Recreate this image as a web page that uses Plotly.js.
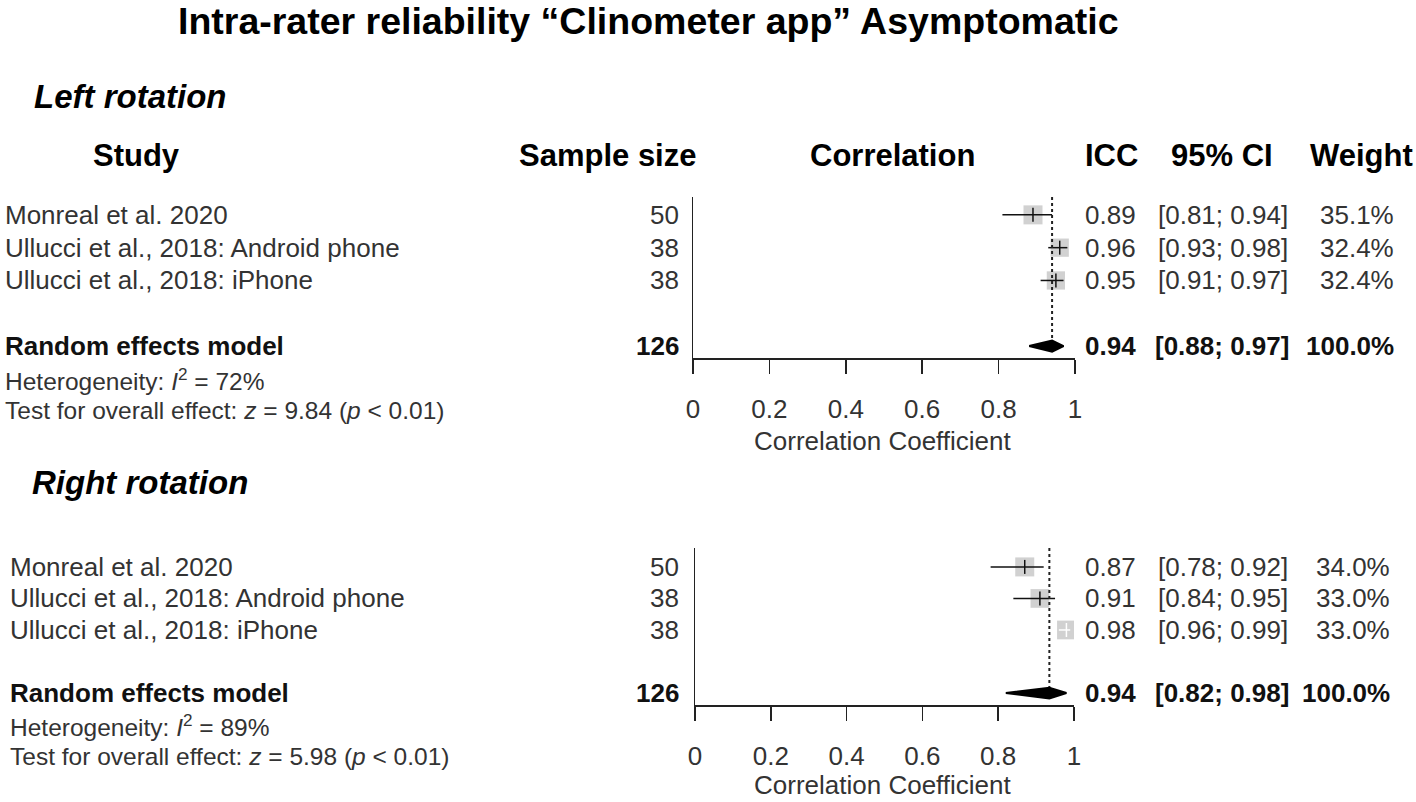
<!DOCTYPE html>
<html>
<head>
<meta charset="utf-8">
<script src="https://cdn.plot.ly/plotly-3.0.1.min.js"></script>
<style>
  body { margin: 0; background: white; }
  #forest { width: 1416px; height: 802px; }
</style>
</head>
<body>
<div id="forest"></div>
<script>
const W = 1416;
const H = 802;

// Studies (same for both panels)
const studies = ['Monreal et al. 2020', 'Ullucci et al., 2018: Android phone', 'Ullucci et al., 2018: iPhone'];

// Left rotation
const leftN = [50, 38, 38];
const leftICC = [0.89, 0.96, 0.95];
const leftLower = [0.81, 0.93, 0.91];
const leftUpper = [0.94, 0.98, 0.97];
const leftWeight = [35.1, 32.4, 32.4];
const leftPooled = [0.94, 0.88, 0.97];   // estimate, lower, upper
const leftI2 = 72;
const leftZ = 9.84;

// Right rotation
const rightN = [50, 38, 38];
const rightICC = [0.87, 0.91, 0.98];
const rightLower = [0.78, 0.84, 0.96];
const rightUpper = [0.92, 0.95, 0.99];
const rightWeight = [34.0, 33.0, 33.0];
const rightPooled = [0.935, 0.82, 0.98];
const rightI2 = 89;
const rightZ = 5.98;

const pooledWeight = 100.0;
const xTicks = [0, 0.2, 0.4, 0.6, 0.8, 1];

const FONT = 'Liberation Sans, Arial, Helvetica, sans-serif';
const TXT = '#333';
const ROW = 26;

function px(x) { return x / W; }
function py(y) { return 1 - y / H; }

function note(text, x, y, yref, opts) {
  opts = opts || {};
  return {
    text: text,
    x: px(x), xref: 'paper',
    y: yref === 'paper' ? py(y) : y, yref: yref,
    showarrow: false,
    xanchor: opts.anchor || 'left',
    yanchor: 'middle',
    borderpad: 0,
    font: { family: FONT, size: opts.size || ROW, color: opts.color || TXT }
  };
}

// builds marks + text for one panel
function panel(p) {
  let traces = [];
  let notes = [];
  let xa = p.axis === 1 ? 'x' : 'x2';
  let ya = p.axis === 1 ? 'y' : 'y2';
  let rows = p.icc.map((v, i) => i + 1);
  let sumRow = rows.length + 2;
  let maxW = Math.max.apply(null, p.weight);
  let plotW = p.x1 - p.x0;

  // squares
  traces.push({
    type: 'scatter', mode: 'markers', xaxis: xa, yaxis: ya,
    x: p.icc, y: rows,
    marker: {
      symbol: 'square',
      size: p.weight.map(w => 19 * Math.sqrt(w / maxW)),
      color: '#bdbdbd', line: { width: 0 }
    },
    hoverinfo: 'skip'
  });

  // confidence intervals + point ticks
  for (let i = 0; i < p.icc.length; i++) {
    let side = 19 * Math.sqrt(p.weight[i] / maxW);
    let inside = (p.upper[i] - p.lower[i]) * plotW < side;
    let col = inside ? 'white' : '#111';
    traces.push({
      type: 'scatter', mode: 'lines', xaxis: xa, yaxis: ya,
      x: [p.lower[i], p.upper[i]], y: [rows[i], rows[i]],
      line: { color: col, width: 1.5 }, hoverinfo: 'skip'
    });
    traces.push({
      type: 'scatter', mode: 'markers', xaxis: xa, yaxis: ya,
      x: [p.icc[i]], y: [rows[i]],
      marker: { symbol: 'line-ns', size: 10, line: { color: col, width: 1.5 } },
      hoverinfo: 'skip'
    });
  }

  // dotted line at pooled estimate
  traces.push({
    type: 'scatter', mode: 'lines', xaxis: xa, yaxis: ya,
    x: [p.pooled[0], p.pooled[0]], y: [p.yRange[1], sumRow],
    line: { color: '#222', width: 2, dash: 'dot' }, hoverinfo: 'skip'
  });

  // diamond
  let h = 0.17;
  traces.push({
    type: 'scatter', mode: 'lines', xaxis: xa, yaxis: ya, fill: 'toself',
    x: [p.pooled[1], p.pooled[0], p.pooled[2], p.pooled[0], p.pooled[1]],
    y: [sumRow, sumRow - h, sumRow, sumRow + h, sumRow],
    fillcolor: '#000', line: { color: '#000', width: 2 }, hoverinfo: 'skip'
  });

  // text columns
  for (let i = 0; i < studies.length; i++) {
    notes.push(note(studies[i], p.studyX, rows[i], ya));
    notes.push(note(String(p.n[i]), 680, rows[i], ya, { anchor: 'right' }));
    notes.push(note(p.icc[i].toFixed(2), 1137, rows[i], ya, { anchor: 'right' }));
    notes.push(note('[' + p.lower[i].toFixed(2) + '; ' + p.upper[i].toFixed(2) + ']', 1157, rows[i], ya));
    notes.push(note(p.weight[i].toFixed(1) + '%', p.weightX, rows[i], ya, { anchor: 'right' }));
  }
  let totalN = p.n.reduce((a, b) => a + b, 0);
  notes.push(note('<b>Random effects model</b>', p.studyX, sumRow, ya, { color: '#111' }));
  notes.push(note('<b>' + totalN + '</b>', 680, sumRow, ya, { anchor: 'right', color: '#111' }));
  notes.push(note('<b>' + p.pooled[0].toFixed(2) + '</b>', 1137, sumRow, ya, { anchor: 'right', color: '#111' }));
  notes.push(note('<b>[' + p.pooled[1].toFixed(2) + '; ' + p.pooled[2].toFixed(2) + ']</b>', 1222, sumRow, ya, { anchor: 'center', color: '#111' }));
  notes.push(note('<b>' + pooledWeight.toFixed(1) + '%</b>', p.weightX, sumRow, ya, { anchor: 'right', color: '#111' }));

  notes.push(note('Heterogeneity: <i>I</i><sup>2</sup> = ' + p.i2 + '%', p.studyX, p.hetY, 'paper', { size: 24.5 }));
  notes.push(note('Test for overall effect: <i>z</i> = ' + p.z.toFixed(2) + ' (<i>p</i> &lt; 0.01)', p.studyX, p.hetY + 31, 'paper', { size: 24.5 }));

  notes.push(note('Correlation Coefficient', (p.x0 + p.x1) / 2 - 1, p.titleY, 'paper', { anchor: 'center' }));

  return { traces: traces, notes: notes };
}

function axisX(p, anchor) {
  return {
    domain: [px(p.x0), px(p.x1)], range: [0, 1], anchor: anchor,
    showline: true, linecolor: '#222', linewidth: 1.5,
    ticks: 'outside', ticklen: 14, tickwidth: 1.5, tickcolor: '#222',
    tickvals: xTicks, ticktext: xTicks.map(String),
    tickfont: { family: FONT, size: ROW, color: TXT },
    ticklabelstandoff: 13,
    showgrid: false, zeroline: false, fixedrange: true
  };
}

function axisY(p, anchor) {
  return {
    domain: [py(p.yBottom), py(p.yTop)], range: p.yRange, anchor: anchor,
    showline: true, linecolor: '#222', linewidth: 1.5,
    ticks: '', showticklabels: false,
    showgrid: false, zeroline: false, fixedrange: true
  };
}

const topPanel = {
  axis: 1, icc: leftICC, lower: leftLower, upper: leftUpper, weight: leftWeight,
  n: leftN, pooled: leftPooled, i2: leftI2, z: leftZ,
  x0: 693, x1: 1075, yTop: 197, yBottom: 358, yRange: [5.364, 0.455],
  studyX: 4, weightX: 1395, hetY: 379, titleY: 441
};
const bottomPanel = {
  axis: 2, icc: rightICC, lower: rightLower, upper: rightUpper, weight: rightWeight,
  n: rightN, pooled: rightPooled, i2: rightI2, z: rightZ,
  x0: 695, x1: 1074, yTop: 548, yBottom: 705, yRange: [5.38, 0.4],
  studyX: 9, weightX: 1391, hetY: 725, titleY: 785
};

let a = panel(topPanel);
let b = panel(bottomPanel);

let headers = [
  note('<b>Intra-rater reliability \u201cClinometer app\u201d Asymptomatic</b>', 648, 21, 'paper', { anchor: 'center', size: 37.5, color: '#000' }),
  note('<b><i>Left rotation</i></b>', 33, 97, 'paper', { size: 33, color: '#000' }),
  note('<b><i>Right rotation</i></b>', 31, 482, 'paper', { size: 33, color: '#000' }),
  note('<b>Study</b>', 136, 155, 'paper', { anchor: 'center', size: 31, color: '#000' }),
  note('<b>Sample size</b>', 607, 155, 'paper', { anchor: 'center', size: 31, color: '#000' }),
  note('<b>Correlation</b>', 892, 155, 'paper', { anchor: 'center', size: 31, color: '#000' }),
  note('<b>ICC</b>', 1111, 155, 'paper', { anchor: 'center', size: 31, color: '#000' }),
  note('<b>95% CI</b>', 1222, 155, 'paper', { anchor: 'center', size: 31, color: '#000' }),
  note('<b>Weight</b>', 1361, 155, 'paper', { anchor: 'center', size: 31, color: '#000' })
];

let layout = {
  width: W, height: H,
  margin: { l: 0, r: 0, t: 0, b: 0 },
  paper_bgcolor: 'white', plot_bgcolor: 'white',
  showlegend: false,
  font: { family: FONT, color: TXT },
  xaxis: axisX(topPanel, 'y'),
  yaxis: axisY(topPanel, 'x'),
  xaxis2: axisX(bottomPanel, 'y2'),
  yaxis2: axisY(bottomPanel, 'x2'),
  annotations: headers.concat(a.notes, b.notes)
};

Plotly.newPlot('forest', a.traces.concat(b.traces), layout, { displayModeBar: false, staticPlot: true });
</script>
</body>
</html>
